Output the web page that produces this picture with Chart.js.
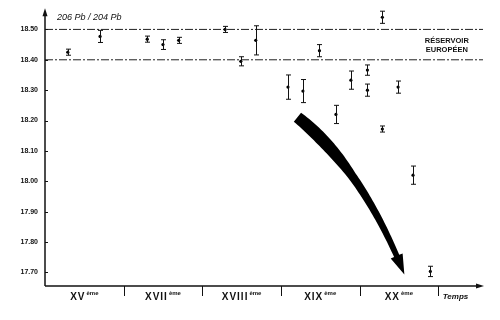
<!DOCTYPE html>
<html lang="fr">
<head>
<meta charset="UTF-8">
<title>206 Pb / 204 Pb</title>
<script src="https://cdn.jsdelivr.net/npm/chart.js"></script>
<style>
  html, body { margin: 0; padding: 0; background: #fff; }
  .chart-container { position: relative; width: 500px; height: 320px; }
</style>
</head>
<body>
<div class="chart-container"><canvas id="leadChart"></canvas></div>
<script>
// --- data ---
// x = position in centuries (0 = start of XV), y = 206Pb/204Pb, err = half error bar
const sampleX = [0.29, 0.70, 1.30, 1.50, 1.70, 2.29, 2.49, 2.68, 3.09, 3.28,
                 3.49, 3.70, 3.89, 4.10, 4.10, 4.29, 4.29, 4.49, 4.68, 4.90];
const sampleY = [18.425, 18.477, 18.468, 18.450, 18.464, 18.500, 18.395, 18.464, 18.310, 18.297,
                 18.430, 18.220, 18.333, 18.366, 18.300, 18.540, 18.172, 18.310, 18.020, 17.703];
const sampleErr = [0.010, 0.020, 0.010, 0.016, 0.010, 0.010, 0.015, 0.048, 0.040, 0.038,
                   0.020, 0.030, 0.030, 0.017, 0.020, 0.020, 0.010, 0.020, 0.030, 0.017];

const centuryLabels = ['XV', 'XVII', 'XVIII', 'XIX', 'XX'];
const centuryPos = [0.5, 1.5, 2.5, 3.5, 4.5];
const centuryBounds = [1, 2, 3, 4, 5];
const yTicks = [17.7, 17.8, 17.9, 18.0, 18.1, 18.2, 18.3, 18.4, 18.5];
const reservoirBounds = [18.40, 18.50];
const reservoirLabel = ['RÉSERVOIR', 'EUROPÉEN'];
const yTitle = '206 Pb / 204 Pb';
const xTitle = 'Temps';

// trend arrow: start, bend, tip (data units)
const arrowX = [3.21, 4.04, 4.57];
const arrowY = [18.211, 18.039, 17.693];

const X_MAX = 5.57;
const FONT = '"Liberation Sans", Arial, sans-serif';
const INK = '#111';

// error bars + point caps
const errorBars = {
  id: 'errorBars',
  afterDatasetsDraw(chart) {
    const { ctx, scales: { x, y } } = chart;
    ctx.save();
    ctx.strokeStyle = INK;
    ctx.lineWidth = 1;
    sampleX.forEach((v, i) => {
      const px = Math.round(x.getPixelForValue(v)) + 0.5;
      const top = y.getPixelForValue(sampleY[i] + sampleErr[i]);
      const bot = y.getPixelForValue(sampleY[i] - sampleErr[i]);
      ctx.beginPath();
      ctx.moveTo(px, top); ctx.lineTo(px, bot);
      ctx.moveTo(px - 2.5, top); ctx.lineTo(px + 2.5, top);
      ctx.moveTo(px - 2.5, bot); ctx.lineTo(px + 2.5, bot);
      ctx.stroke();
    });
    ctx.restore();
  }
};

// axes, arrow, labels
const decorations = {
  id: 'decorations',
  afterDraw(chart) {
    const { ctx, chartArea: area, scales: { x, y } } = chart;
    ctx.save();
    ctx.fillStyle = INK;
    ctx.strokeStyle = INK;

    // y axis with arrow
    ctx.lineWidth = 1.5;
    ctx.beginPath();
    ctx.moveTo(area.left, area.bottom); ctx.lineTo(area.left, area.top + 4);
    ctx.stroke();
    ctx.beginPath();
    ctx.moveTo(area.left, area.top - 3);
    ctx.lineTo(area.left - 2.5, area.top + 5);
    ctx.lineTo(area.left + 2.5, area.top + 5);
    ctx.closePath(); ctx.fill();

    // small inner ticks
    ctx.lineWidth = 1;
    yTicks.forEach(v => {
      const py = Math.round(y.getPixelForValue(v)) + 0.5;
      ctx.beginPath(); ctx.moveTo(area.left, py); ctx.lineTo(area.left + 3, py); ctx.stroke();
    });

    // x axis with arrow
    ctx.lineWidth = 1.5;
    ctx.beginPath();
    ctx.moveTo(area.left, area.bottom); ctx.lineTo(area.right - 4, area.bottom);
    ctx.stroke();
    ctx.beginPath();
    ctx.moveTo(area.right + 1, area.bottom);
    ctx.lineTo(area.right - 7, area.bottom - 2.5);
    ctx.lineTo(area.right - 7, area.bottom + 2.5);
    ctx.closePath(); ctx.fill();

    // century separators
    ctx.lineWidth = 1;
    centuryBounds.forEach(v => {
      const px = Math.round(x.getPixelForValue(v)) + 0.5;
      ctx.beginPath(); ctx.moveTo(px, area.bottom); ctx.lineTo(px, area.bottom + 10); ctx.stroke();
    });

    // century labels with superscript
    ctx.textBaseline = 'alphabetic';
    ctx.textAlign = 'left';
    centuryLabels.forEach((lab, i) => {
      ctx.letterSpacing = '1px';
      ctx.font = '600 10px ' + FONT;
      const w1 = ctx.measureText(lab).width;
      ctx.letterSpacing = '0px';
      ctx.font = 'bold 6px ' + FONT;
      const w2 = ctx.measureText('ème').width;
      const cx = x.getPixelForValue(centuryPos[i]);
      const sx = cx - (w1 + 1 + w2) / 2;
      ctx.letterSpacing = '1px';
      ctx.font = '600 10px ' + FONT;
      ctx.fillText(lab, sx, area.bottom + 14);
      ctx.letterSpacing = '0px';
      ctx.font = 'bold 6px ' + FONT;
      ctx.fillText('ème', sx + w1 + 1, area.bottom + 9);
    });
    ctx.font = 'italic bold 8px ' + FONT;
    ctx.textAlign = 'center';
    ctx.fillText(xTitle, x.getPixelForValue(5.22), area.bottom + 13);

    // y title
    ctx.textAlign = 'left';
    ctx.font = 'italic 9px ' + FONT;
    ctx.fillText(yTitle, area.left + 12, area.top + 9);

    // reservoir label
    ctx.textAlign = 'center';
    ctx.font = 'bold 7.5px ' + FONT;
    const lx = x.getPixelForValue(5.11);
    const midY = y.getPixelForValue((reservoirBounds[0] + reservoirBounds[1]) / 2);
    ctx.fillText(reservoirLabel[0], lx, midY - 2);
    ctx.fillText(reservoirLabel[1], lx, midY + 7);

    // curved trend arrow
    const p = arrowX.map((v, i) => ({ x: x.getPixelForValue(v), y: y.getPixelForValue(arrowY[i]) }));
    const bez = t => {
      const u = 1 - t;
      return { x: u * u * p[0].x + 2 * u * t * p[1].x + t * t * p[2].x,
               y: u * u * p[0].y + 2 * u * t * p[1].y + t * t * p[2].y };
    };
    const nrm = t => {
      const dx = 2 * (1 - t) * (p[1].x - p[0].x) + 2 * t * (p[2].x - p[1].x);
      const dy = 2 * (1 - t) * (p[1].y - p[0].y) + 2 * t * (p[2].y - p[1].y);
      const l = Math.hypot(dx, dy);
      return { x: -dy / l, y: dx / l };
    };
    let tHead = 1;
    while (tHead > 0 && Math.hypot(bez(tHead).x - p[2].x, bez(tHead).y - p[2].y) < 20) tHead -= 0.005;
    const left = [], right = [];
    const N = 60;
    for (let k = 0; k <= N; k++) {
      const t = tHead * k / N;
      const s = k / N;
      const hw = 5.8 - 3 * s + 1.2 * Math.sin(Math.PI * Math.min(s * 2, 1));
      const c = bez(t), n = nrm(t);
      left.push({ x: c.x + n.x * hw, y: c.y + n.y * hw });
      right.push({ x: c.x - n.x * hw, y: c.y - n.y * hw });
    }
    const hb = bez(tHead), hn = nrm(tHead);
    ctx.beginPath();
    ctx.moveTo(left[0].x, left[0].y);
    left.forEach(q => ctx.lineTo(q.x, q.y));
    ctx.lineTo(hb.x + hn.x * 6.5, hb.y + hn.y * 6.5);
    ctx.lineTo(p[2].x, p[2].y);
    ctx.lineTo(hb.x - hn.x * 6.5, hb.y - hn.y * 6.5);
    for (let k = right.length - 1; k >= 0; k--) ctx.lineTo(right[k].x, right[k].y);
    ctx.closePath();
    ctx.fillStyle = '#000';
    ctx.fill();

    ctx.restore();
  }
};

const ctx = document.getElementById('leadChart').getContext('2d');
new Chart(ctx, {
  type: 'scatter',
  data: {
    datasets: [
      {
        data: sampleX.map((v, i) => ({ x: v, y: sampleY[i] })),
        pointRadius: 1.6,
        pointBackgroundColor: '#000',
        pointBorderWidth: 0
      },
      ...reservoirBounds.map(v => ({
        type: 'line',
        data: [{ x: 0, y: v }, { x: X_MAX, y: v }],
        borderColor: '#222',
        borderWidth: 1,
        borderDash: [8, 2, 2, 2],
        pointRadius: 0
      }))
    ]
  },
  options: {
    responsive: true,
    maintainAspectRatio: false,
    animation: false,
    layout: { padding: { top: 10, right: 17, bottom: 34, left: 0 } },
    plugins: { legend: { display: false }, tooltip: { enabled: false } },
    scales: {
      x: { type: 'linear', display: false, min: 0, max: X_MAX },
      y: {
        min: 17.655,
        max: 18.56,
        afterBuildTicks: s => { s.ticks = yTicks.map(v => ({ value: v })); },
        afterFit: s => { s.width = 45; },
        grid: { display: false, drawTicks: false },
        border: { display: false },
        ticks: {
          padding: 7,
          color: INK,
          font: { size: 7, weight: 'bold', family: FONT },
          callback: v => v.toFixed(2)
        }
      }
    }
  },
  plugins: [errorBars, decorations]
});
</script>
</body>
</html>
